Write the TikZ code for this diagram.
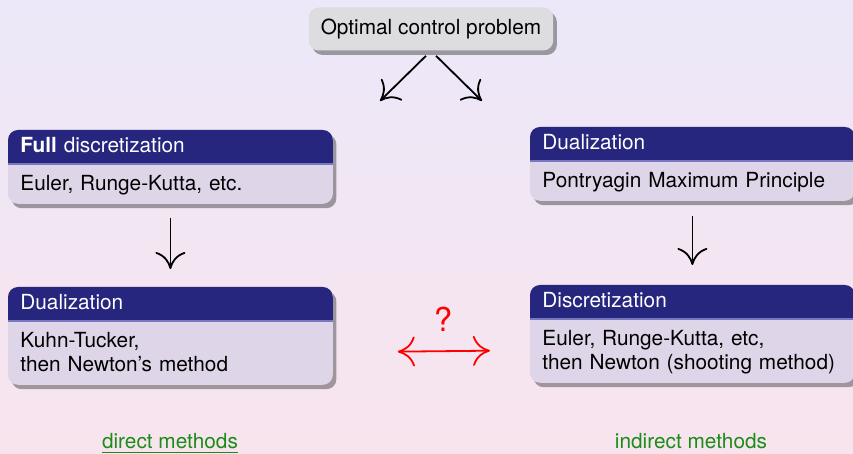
\documentclass[tikz,border=0pt]{standalone}
\usepackage{fontspec}
\setmainfont{TeX Gyre Heros}
\usetikzlibrary{arrows.meta, positioning, shadows}

\definecolor{bgtop}{RGB}{236,232,249}
\definecolor{bgbot}{RGB}{248,228,237}
\definecolor{hdrblue}{RGB}{38,38,126}
\definecolor{bodylav}{RGB}{222,214,232}
\definecolor{hdrline}{RGB}{120,120,190}
\definecolor{boxgray}{RGB}{221,221,224}
\definecolor{methgreen}{RGB}{25,140,25}

\pgfdeclarelayer{back}
\pgfdeclarelayer{blocks}
\pgfsetlayers{back,blocks,main}

\tikzset{
  cmtip/.tip={Computer Modern Rightarrow[length=8.5pt,width=15pt]},
  blocktitle/.style={anchor=north west, text=white, text width=150pt, inner xsep=6pt,
    inner ysep=2pt, text height=8.85pt, text depth=3.15pt},
  blockbody/.style={text width=150pt, inner xsep=6pt, inner ysep=3pt, text height=10.5pt,
    align=left, execute at end node=\strut},
  blockshadow/.style={drop shadow={shadow xshift=1.8pt, shadow yshift=-2.2pt, opacity=0.35, fill=black}},
  topbox/.style={fill=boxgray, rounded corners=5pt, inner xsep=6pt, minimum height=21.5pt, blockshadow},
  flow/.style={-cmtip, line width=0.9pt},
  compare/.style={cmtip-cmtip, red, line width=0.9pt},
  method/.style={text=methgreen, anchor=base},
}

\begin{document}
\begin{tikzpicture}[x=0.5pt, y=-0.5pt, font=\fontsize{10.4}{12}\selectfont]
  \useasboundingbox (0,0) rectangle (853,454);
  \begin{pgfonlayer}{back}
    \shade[top color=bgtop, bottom color=bgbot] (0,0) rectangle (853,454);
  \end{pgfonlayer}

  % problem at the top
  \node[topbox] (ocp) at (431,29) {Optimal control problem};

  % direct branch (left)
  \node[blocktitle] (fdT) at (8,130) {\textbf{Full} discretization};
  \node[blockbody, below=0pt of fdT] (fdB) {Euler, Runge-Kutta, etc.};
  \node[blocktitle] (kkT) at (8,287) {Dualization};
  \node[blockbody, below=0pt of kkT] (kkB) {Kuhn-Tucker,\\ then Newton's method};

  % indirect branch (right)
  \node[blocktitle] (pmT) at (530,127) {Dualization};
  \node[blockbody, below=0pt of pmT] (pmB) {Pontryagin Maximum Principle};
  \node[blocktitle] (shT) at (530,285) {Discretization};
  \node[blockbody, below=0pt of shT] (shB) {Euler, Runge-Kutta, etc,\\ then Newton (shooting method)};

  % block frames behind the texts
  \begin{pgfonlayer}{blocks}
    \foreach \blk in {fd,kk,pm,sh} {
      \fill[bodylav, rounded corners=5pt, blockshadow] (\blk T.north west) rectangle (\blk B.south east);
      \fill[hdrblue, rounded corners=5pt] (\blk T.north west) rectangle (\blk T.south east);
      \fill[hdrblue] (\blk T.west) rectangle (\blk T.south east);
      \draw[hdrline, line width=1pt] ([yshift=-0.5pt]\blk T.south west) -- ([yshift=-0.5pt]\blk T.south east);
    }
  \end{pgfonlayer}

  % connectors
  \coordinate (dl) at (380,101);
  \coordinate (dr) at (482,101);
  \draw[flow, shorten <=3.5pt] (ocp.south) -- (dl);
  \draw[flow, shorten <=3.5pt] (ocp.south) -- (dr);
  \draw[flow, shorten <=7pt, shorten >=9pt] (fdB.south) -- (kkT.north);
  \draw[flow, shorten <=7.5pt, shorten >=10pt] (pmB.south) -- (shT.north);
  \draw[compare, shorten <=32.5pt, shorten >=20pt] (kkB.east) -- (shB.west);
  \node[text=red, font=\fontsize{16.5}{18}\selectfont, anchor=base] (q) at (443,332) {?};

  % labels under the branches
  \node[method] (dm) at (170,449) {\underline{direct methods}};
  \node[method] (im) at (691,449) {indirect methods};
\end{tikzpicture}
\end{document}
